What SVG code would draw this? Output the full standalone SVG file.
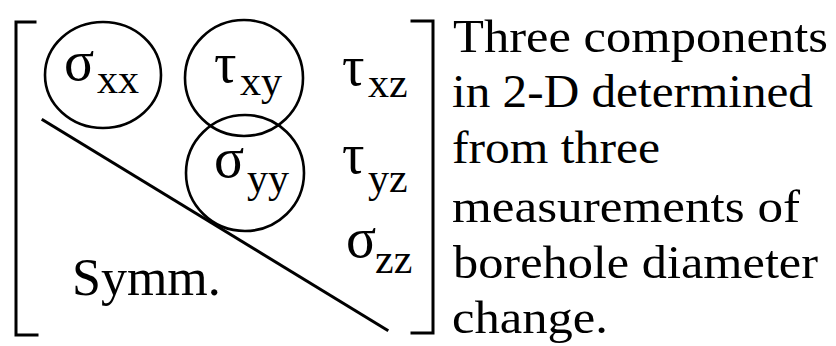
<svg xmlns="http://www.w3.org/2000/svg" width="836" height="346" viewBox="0 0 836 346">
<style>
.ln{fill:none;stroke:#000;stroke-width:3;stroke-linecap:square}
.cr{fill:none;stroke:#000;stroke-width:2.6}
.t{font-family:"Liberation Serif","Times New Roman",serif;fill:#000}
.big{font-size:56px}
.sub{font-size:42px}
.txt{font-size:46px}
</style>
<rect width="836" height="346" fill="#fff"/>
<g id="bracket-left"><path class="ln" d="M35 22 H16 V335 H37"/></g>
<g id="bracket-right"><path class="ln" d="M412 21 H433 V333 H412"/></g>
<g id="connectors"><line class="ln" x1="43" y1="120" x2="387" y2="330"/></g>
<g id="sxx"><ellipse class="cr" cx="103" cy="75" rx="58" ry="53"/><text class="t big" x="64" y="80">σ</text><text class="t sub" x="97" y="93">xx</text></g>
<g id="txy"><ellipse class="cr" cx="244" cy="78" rx="59" ry="58"/><text class="t big" x="214" y="82">τ</text><text class="t sub" x="240" y="95">xy</text></g>
<g id="txz"><text class="t big" x="342" y="85">τ</text><text class="t sub" x="368" y="97">xz</text></g>
<g id="syy"><ellipse class="cr" cx="245" cy="173" rx="59" ry="58"/><text class="t big" x="214" y="177">σ</text><text class="t sub" x="247" y="192">yy</text></g>
<g id="tyz"><text class="t big" x="342" y="173">τ</text><text class="t sub" x="368" y="192">yz</text></g>
<g id="szz"><text class="t big" x="346" y="257">σ</text><text class="t sub" x="375" y="273">zz</text></g>
<g id="symm"><text class="t" font-size="52" x="72" y="295">Symm.</text></g>
<g id="note" class="t txt">
<text x="453" y="52" textLength="375" lengthAdjust="spacingAndGlyphs">Three components</text>
<text x="452" y="107" textLength="361" lengthAdjust="spacingAndGlyphs">in 2-D determined</text>
<text x="452" y="163" textLength="208" lengthAdjust="spacingAndGlyphs">from three</text>
<text x="452" y="222" textLength="348" lengthAdjust="spacingAndGlyphs">measurements of</text>
<text x="453" y="278" textLength="365" lengthAdjust="spacingAndGlyphs">borehole diameter</text>
<text x="452" y="333" textLength="156" lengthAdjust="spacingAndGlyphs">change.</text>
</g>
</svg>
